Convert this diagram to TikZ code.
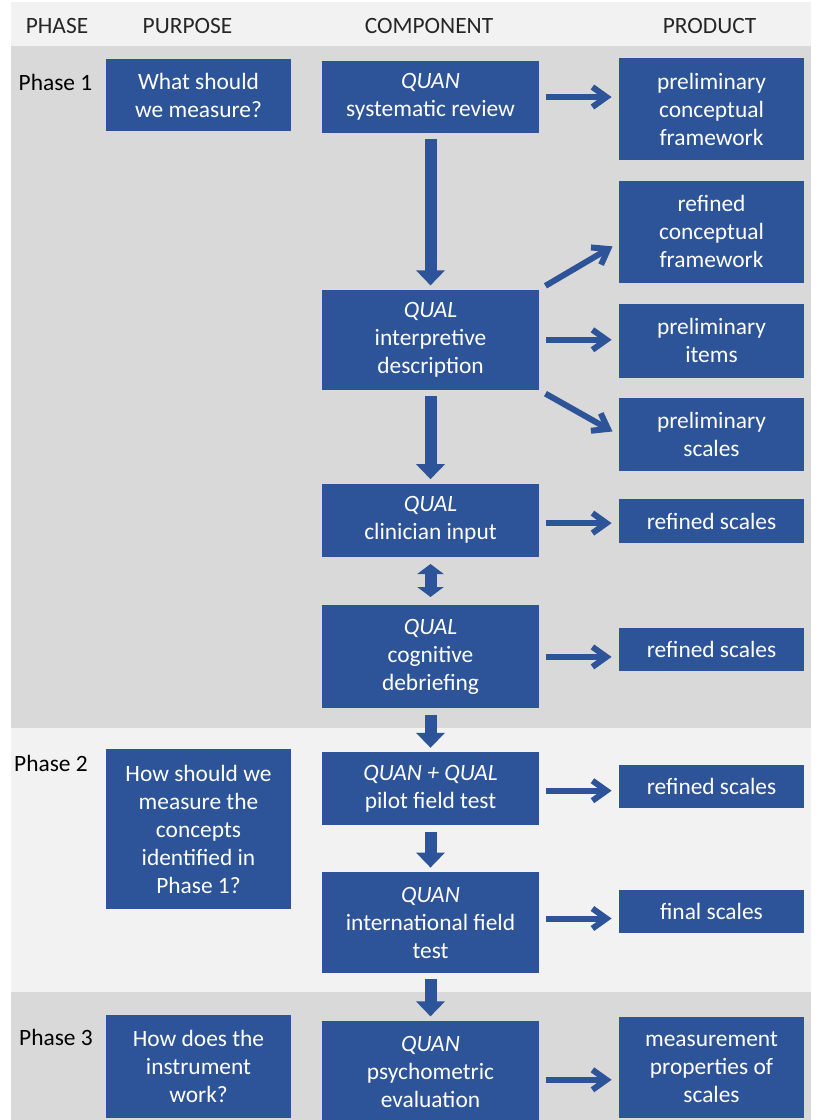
\documentclass[tikz,border=0pt]{standalone}
\usepackage{fontspec}
\setmainfont{Carlito}
\usetikzlibrary{arrows.meta,positioning}
\definecolor{boxblue}{RGB}{45,84,152}
\definecolor{bandgray}{RGB}{217,217,217}
\definecolor{bandlight}{RGB}{242,242,242}
\definecolor{headtext}{RGB}{38,38,38}

\begin{document}
\begin{tikzpicture}[x=0.5pt, y=-0.5pt, font=\fontsize{11.7}{14}\selectfont,
    box/.style={fill=boxblue, text=white, align=center, inner sep=0pt},
    purpose node/.style={box, minimum width=92.5pt},
    component node/.style={box, minimum width=108.5pt},
    product node/.style={box, minimum width=92.5pt},
    head node/.style={text=headtext},
    phase node/.style={text=black},
    thin arrow/.style={draw=boxblue, line width=3pt, -{Straight Barb[length=7pt,width=10pt]}, shorten <=3.5pt, shorten >=3.5pt},
    block arrow/.style={draw=boxblue, line width=6pt, -{Triangle[length=7.5pt,width=14pt]}, shorten <=3pt, shorten >=2pt},
    double block/.style={draw=boxblue, line width=6pt, {Triangle[length=5pt,width=13pt]}-{Triangle[length=5pt,width=13pt]}, shorten <=3.5pt, shorten >=4pt}]

    \useasboundingbox (0,0) rectangle (815,1120);
    % bands
    \fill[white] (0,0) rectangle (815,1120);
    \fill[bandlight] (11,2) rectangle (811,46);
    \fill[bandgray] (11,46) rectangle (811,728);
    \fill[bandlight] (11,728) rectangle (811,992);
    \fill[bandgray] (11,992) rectangle (811,1120);

    % column heads
    \node[head node] (hPhase) at (57,26) {PHASE};
    \node[head node] (hPurpose) at (187.5,26) {PURPOSE};
    \node[head node] (hComponent) at (429,26) {COMPONENT};
    \node[head node] (hProduct) at (709.5,26) {PRODUCT};

    \node[phase node] (ph1) at (55.5,82) {Phase 1};
    \node[phase node] (ph2) at (51,763) {Phase 2};
    \node[phase node] (ph3) at (56,1037) {Phase 3};

    % purpose
    \node[purpose node, minimum height=36pt] (P1) at (198.5,95) {What should\\we measure?};
    \node[purpose node, minimum height=80pt] (P2) at (198.5,829) {How should we\\measure the\\concepts\\identified in\\Phase 1?};
    \node[purpose node, minimum height=51.5pt] (P3) at (198.5,1066.5) {How does the\\instrument\\work?};

    % component
    \node[component node, minimum height=36pt] (C1) at (430.5,97) {\textit{QUAN}\\systematic review};
    \node[component node, minimum height=50pt] (C2) [below=78pt of C1] {\textit{QUAL}\\interpretive\\description};
    \node[component node, minimum height=36.5pt] (C3) [below=46.5pt of C2] {\textit{QUAL}\\clinician input};
    \node[component node, minimum height=51.5pt] (C4) [below=24pt of C3] {\textit{QUAL}\\cognitive\\debriefing};
    \node[component node, minimum height=36.5pt] (C5) [below=21.5pt of C4] {\textit{QUAN + QUAL}\\pilot field test};
    \node[component node, minimum height=50.5pt] (C6) [below=23pt of C5] {\textit{QUAN}\\international field\\test};
    \node[component node, minimum height=51pt] (C7) [below=23.5pt of C6] {\textit{QUAN}\\psychometric\\evaluation};

    % product
    \node[product node, minimum height=51pt] (R1) at (711.5,109) {preliminary\\conceptual\\framework};
    \node[product node, minimum height=51pt] (R2) [below=10pt of R1] {refined\\conceptual\\framework};
    \node[product node, minimum height=37pt] (R3) [below=10pt of R2] {preliminary\\items};
    \node[product node, minimum height=36.5pt] (R4) [below=10pt of R3] {preliminary\\scales};
    \node[product node, minimum height=22pt] (R5) [below=13.5pt of R4] {refined scales};
    \node[product node, minimum height=21.5pt] (R6) at (711.5,649.5) {refined scales};
    \node[product node, minimum height=21.5pt] (R7) at (711.5,786.5) {refined scales};
    \node[product node, minimum height=21.5pt] (R8) at (711.5,911.5) {final scales};
    \node[product node, minimum height=50.5pt] (R9) at (711.5,1067.5) {measurement\\properties of\\scales};

    \path
        (C1.east) edge[thin arrow] (C1.east -| R1.west)
        (C2.north east) edge[thin arrow] ([yshift=-5.5pt]R2.west)
        (C2.east) edge[thin arrow] (C2.east -| R3.west)
        (C2.south east) edge[thin arrow] (R4.west)
        ([yshift=-1.5pt]C3.east) edge[thin arrow] ([yshift=-1.5pt]C3.east -| R5.west)
        (C4.east) edge[thin arrow] (C4.east -| R6.west)
        ([yshift=-1pt]C5.east) edge[thin arrow] ([yshift=-1pt]C5.east -| R7.west)
        ([yshift=2pt]C6.east) edge[thin arrow] ([yshift=2pt]C6.east -| R8.west)
        ([yshift=-4pt]C7.east) edge[thin arrow] ([yshift=-4pt]C7.east -| R9.west)
        (C1) edge[block arrow] (C2)
        (C2) edge[block arrow] (C3)
        (C3) edge[double block] (C4)
        (C4) edge[block arrow] (C5)
        (C5) edge[block arrow] (C6)
        (C6) edge[block arrow] (C7);
\end{tikzpicture}
\end{document}
